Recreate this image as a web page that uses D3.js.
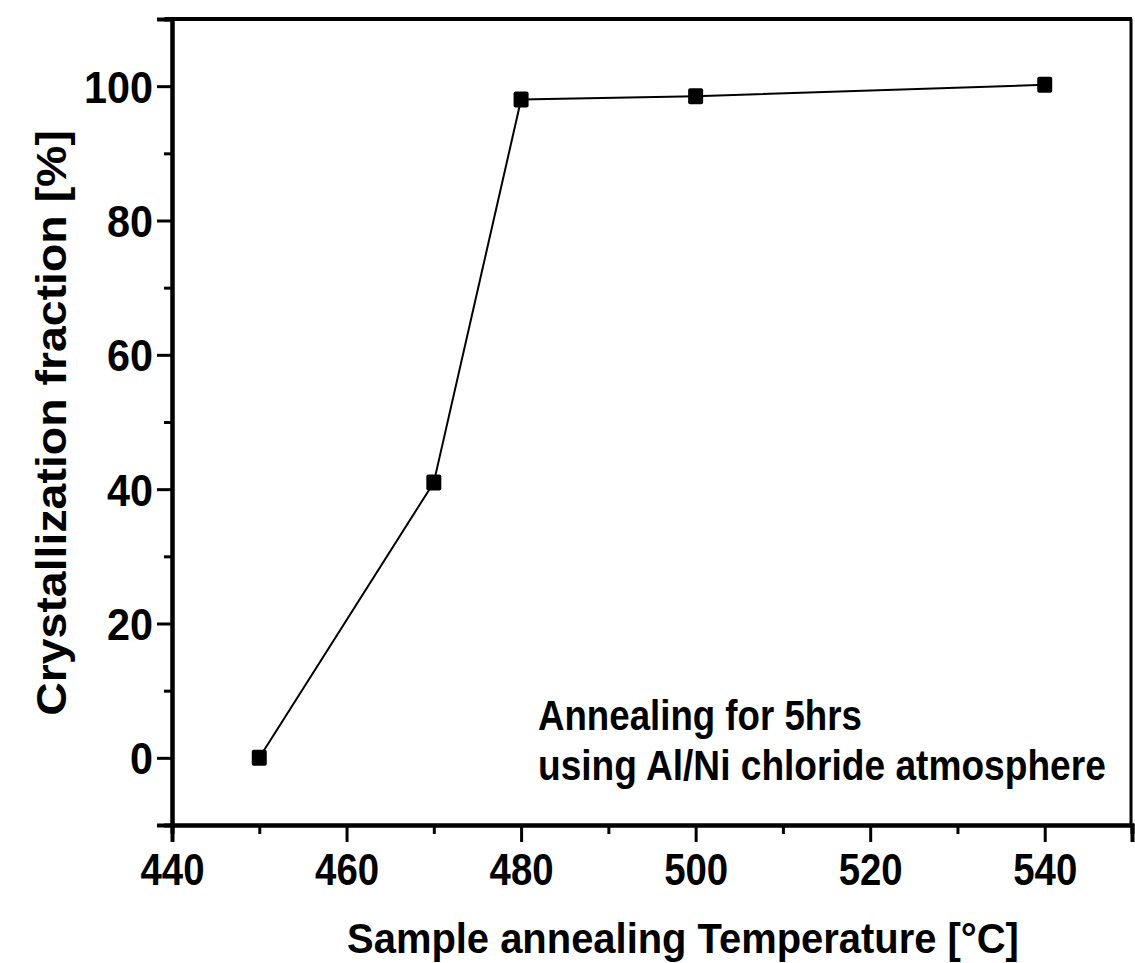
<!DOCTYPE html>
<html>
<head>
<meta charset="utf-8">
<script src="https://cdn.jsdelivr.net/npm/d3@7"></script>
<style>
  body { margin: 0; background: #fff; }
  svg text { font-family: "Liberation Sans", Arial, sans-serif; font-weight: bold; fill: #000; }
</style>
</head>
<body>
<div id="chart"></div>
<script>
// data
const temps = [450, 470, 480, 500, 540];
const fraction = [0, 41, 98, 98.5, 100.2];
const xTicks = [440, 460, 480, 500, 520, 540];
const yTicks = [0, 20, 40, 60, 80, 100];
const noteLines = ["Annealing for 5hrs", "using Al/Ni chloride atmosphere"];

const width = 1135, height = 963;
const margin = { left: 172, right: 3, top: 19, bottom: 138 };

const svg = d3.select("#chart").append("svg")
  .attr("width", width)
  .attr("height", height);

// squeeze a text horizontally so it spans w pixels (the original font is condensed)
function squeeze(sel, x0, y0, w, rot) {
  sel.each(function() {
    const t = d3.select(this);
    const nat = this.getComputedTextLength();
    const k = w / nat;
    t.attr("x", 0).attr("y", 0)
      .attr("transform", "translate(" + x0 + "," + y0 + ")" + (rot ? " rotate(" + rot + ")" : "") + " scale(" + k + ",1)");
  });
}

// scales
const x = d3.scaleLinear().domain([440, 550]).range([margin.left, width - margin.right]);
const y = d3.scaleLinear().domain([-10, 110]).range([height - margin.bottom, margin.top]);

// ---- frame (top + right)
svg.append("line")
  .attr("x1", x(440) - 7).attr("x2", x(550))
  .attr("y1", y(110)).attr("y2", y(110))
  .attr("stroke", "#000").attr("stroke-width", 4);
svg.append("line")
  .attr("x1", x(550) - 1).attr("x2", x(550) - 1)
  .attr("y1", y(110)).attr("y2", y(-10))
  .attr("stroke", "#000").attr("stroke-width", 3);

// ---- x axis: minor ticks first, then major
const xAxisG = svg.append("g").attr("transform", "translate(0," + y(-10) + ")");
xAxisG.call(d3.axisBottom(x).tickValues(d3.range(450, 550, 20)).tickSize(9).tickFormat(""));
const xMajor = svg.append("g").attr("transform", "translate(0," + y(-10) + ")")
  .call(d3.axisBottom(x).tickValues(xTicks).tickSize(17).tickPadding(12));
[xAxisG, xMajor].forEach(g => {
  g.select(".domain").attr("stroke-width", 4);
  g.selectAll(".tick line").attr("stroke-width", 3);
});
xMajor.selectAll(".tick text")
  .style("font-size", "44px")
  .attr("textLength", 64)
  .attr("lengthAdjust", "spacingAndGlyphs");

// ---- y axis
const yAxisG = svg.append("g").attr("transform", "translate(" + x(440) + ",0)");
yAxisG.call(d3.axisLeft(y).tickValues(d3.range(-10, 111, 20)).tickSize(8).tickFormat(""));
const yMajor = svg.append("g").attr("transform", "translate(" + x(440) + ",0)")
  .call(d3.axisLeft(y).tickValues(yTicks).tickSize(15).tickPadding(4));
[yAxisG, yMajor].forEach(g => {
  g.select(".domain").attr("stroke-width", 4);
  g.selectAll(".tick line").attr("stroke-width", 3);
});
yMajor.selectAll(".tick text")
  .style("font-size", "44px")
  .attr("dy", "0.36em")
  .attr("textLength", d => String(d).length * 23)
  .attr("lengthAdjust", "spacingAndGlyphs");

// ---- axis titles
svg.append("text")
  .attr("text-anchor", "middle")
  .style("font-size", "42px")
  .text("Sample annealing Temperature [\u00B0C]")
  .call(squeeze, 683, 953, 672);

svg.append("text")
  .attr("text-anchor", "middle")
  .style("font-size", "42px")
  .text("Crystallization fraction [%]")
  .call(squeeze, 66, 423, 586, -90);

// ---- note
const noteWidths = [324, 568];
svg.append("g").selectAll("text")
  .data(noteLines)
  .join("text")
  .style("font-size", "42px")
  .text(d => d)
  .each(function(d, i) {
    squeeze(d3.select(this), 538, 730 + i * 50, noteWidths[i]);
  });

// ---- data line + markers
const pts = temps.map((t, i) => ({ t: t, v: fraction[i] }));
svg.append("path")
  .datum(pts)
  .attr("fill", "none")
  .attr("stroke", "#000")
  .attr("stroke-width", 2)
  .attr("d", d3.line().x(d => x(d.t)).y(d => y(d.v)));

const sqW = 15, sqH = 16;
svg.selectAll("rect.marker")
  .data(pts)
  .join("rect")
  .attr("class", "marker")
  .attr("x", d => x(d.t) - sqW / 2)
  .attr("y", d => y(d.v) - sqH / 2)
  .attr("width", sqW)
  .attr("height", sqH)
  .attr("rx", 2)
  .attr("fill", "#000");
</script>
</body>
</html>
